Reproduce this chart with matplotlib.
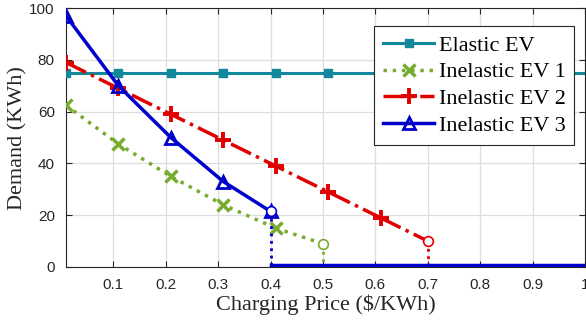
import numpy as np
import matplotlib
matplotlib.use("Agg")
import matplotlib.pyplot as plt

# Données
price_mk = [0.01, 0.11, 0.21, 0.31, 0.41, 0.51]
elastic = [75, 75, 75, 75, 75, 75]
price_end = 1.0

price_1 = [0.01, 0.11, 0.21, 0.31, 0.41, 0.50]
ev1 = [62.5, 47.5, 35, 24, 15, 9]

price_2 = [0.01, 0.11, 0.21, 0.31, 0.41, 0.51, 0.61, 0.70]
ev2 = [79, 69, 59, 49, 39, 29, 19, 10]

price_3 = [0.01, 0.11, 0.21, 0.31, 0.40]
ev3 = [97, 70, 50, 33, 21.5]

zero_level = [0.0, 0.0, 0.8]   # EV1, EV2, EV3 après la coupure

c_el = "#12889c"
c_1 = "#77ac30"
c_2 = "#e00000"
c_3 = "#0000cc"

serif = "Liberation Serif"
plt.rcParams['font.family'] = ['Liberation Sans', 'DejaVu Sans']

fig = plt.figure(figsize=(5.86, 3.26), dpi=100)
ax = fig.add_axes([0.1126, 0.181, 0.886, 0.794])

# Elastic EV
ax.plot(price_mk + [price_end], elastic + [elastic[-1]], color=c_el, lw=2.2,
        zorder=3)
ax.plot(price_mk, elastic, color=c_el, lw=0, marker="s", ms=6, zorder=3)
ax.plot([], [], color=c_el, lw=2.2, marker="s", ms=6, label="Elastic EV")

# Inelastic EV 1
ax.plot(price_1[:-1], ev1[:-1], color=c_1, lw=2.5, ls=":", marker="x", ms=8,
        mew=2.5, label="Inelastic EV 1", zorder=4)
ax.plot(price_1[-2:], ev1[-2:], color=c_1, lw=2.5, ls=":", zorder=4)
ax.plot([price_1[-1], price_1[-1]], [ev1[-1], zero_level[0]], color=c_1,
        lw=2, ls=":", zorder=4)
ax.plot([price_1[-1], price_end], [zero_level[0]] * 2, color=c_1, lw=2.5,
        zorder=4)
ax.plot(price_1[-1], ev1[-1], "o", mfc="white", mec=c_1, ms=7, mew=1.2,
        zorder=6)

# Inelastic EV 2
ax.plot(price_2[:-1], ev2[:-1], color=c_2, lw=2.5, ls="-.", marker="+",
        ms=11, mew=2.8, label="Inelastic EV 2", zorder=4)
ax.plot(price_2[-2:], ev2[-2:], color=c_2, lw=2.5, ls="-.", zorder=4)
ax.plot([price_2[-1], price_2[-1]], [ev2[-1], zero_level[1]], color=c_2,
        lw=2, ls=":", zorder=4)
ax.plot([price_2[-1], price_end], [zero_level[1]] * 2, color=c_2, lw=2.5,
        zorder=4)
ax.plot(price_2[-1], ev2[-1], "o", mfc="white", mec=c_2, ms=7, mew=1.2,
        zorder=6)

# Inelastic EV 3
ax.plot(price_3, ev3, color=c_3, lw=2.5, marker="^", ms=9, mfc="none",
        mew=2, label="Inelastic EV 3", zorder=5)
ax.plot([price_3[-1], price_3[-1]], [ev3[-1], zero_level[2]], color=c_3,
        lw=2, ls=":", zorder=5)
ax.plot([price_3[-1], price_end], [zero_level[2]] * 2, color=c_3, lw=2.5,
        zorder=5)
ax.plot(price_3[-1], ev3[-1], "o", mfc="white", mec=c_3, ms=7, mew=1.2,
        zorder=6)

ax.set_xlim(0.01, 1.0)
ax.set_ylim(0, 100)
ax.set_xticks([0.1, 0.2, 0.3, 0.4, 0.5, 0.6, 0.7, 0.8, 0.9, 1.0])
ax.set_xticklabels(["0.1", "0.2", "0.3", "0.4", "0.5", "0.6", "0.7", "0.8",
                    "0.9", "1"])
ax.set_yticks([0, 20, 40, 60, 80, 100])
ax.grid(True, color="#dedede", lw=0.9)
ax.set_axisbelow(True)
ax.tick_params(direction="in", length=4, labelsize=11, colors="#262626",
               top=True, right=True, pad=8)
for s in ax.spines.values():
    s.set_color("#262626")
    s.set_linewidth(0.8)

ax.set_xlabel("Charging Price ($/KWh)", family=serif, fontsize=16,
              color="#262626", labelpad=2)
ax.set_ylabel("Demand (KWh)", family=serif, fontsize=16, color="#262626",
              labelpad=1)

leg = ax.legend(loc="upper right", bbox_to_anchor=(0.979, 0.93),
                prop={"family": serif, "size": 16}, fancybox=False,
                framealpha=1, edgecolor="#262626", handlelength=2.3,
                handletextpad=0.2, borderpad=0.4, labelspacing=0.28,
                borderaxespad=0)
leg.get_frame().set_linewidth(0.8)

fig.savefig("out.png", dpi=100)
